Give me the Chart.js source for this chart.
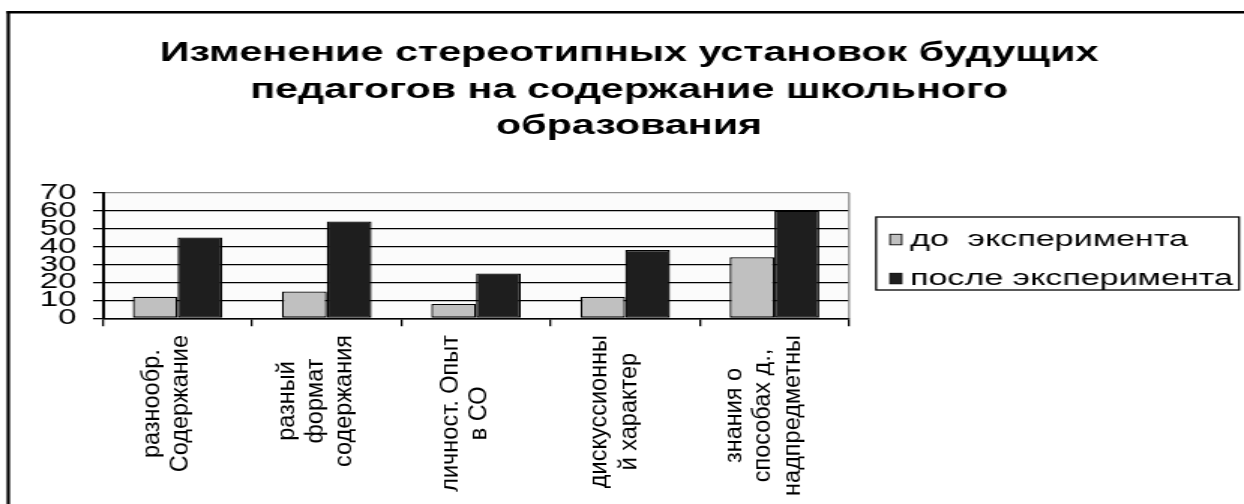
<!DOCTYPE html>
<html>
<head>
<meta charset="utf-8">
<script src="https://cdn.jsdelivr.net/npm/chart.js@4/dist/chart.umd.min.js"></script>
<style>
  html, body { margin: 0; padding: 0; background: #fff; }
</style>
</head>
<body>
<!-- the drawing surface is laid out narrow and shown widened, like the old office chart -->
<canvas id="chart" width="829" height="504" style="display:block;width:1244px;height:504px"></canvas>
<script>
// ---- chart data ----
const titleLines = [
  'Изменение стереотипных установок будущих',
  'педагогов на содержание школьного',
  'образования'
];
const categories = [
  ['разнообр.', 'Содержание'],
  ['разный', 'формат', 'содержания'],
  ['личност. Опыт', 'в СО'],
  ['дискуссионны', 'й характер'],
  ['знания о', 'способах д.,', 'надпредметны']
];
const seriesNames = ['до  эксперимента', 'после эксперимента'];
const beforeValues = [12, 15, 8, 12, 34];
const afterValues = [45, 54, 25, 38, 60];
const yTickValues = [0, 10, 20, 30, 40, 50, 60, 70];

// ---- look ----
const FONT = '"Liberation Sans", Arial, sans-serif';
const GRAY_FILL = '#c0c0c0';
const DARK_FILL = '#1e1e1e';
const WIDEN = 1244 / 829;   // on-screen widening of the canvas

const decor = {
  id: 'decor',
  beforeDraw(chart) {
    const { ctx, chartArea: a } = chart;
    ctx.save();
    ctx.fillStyle = '#fff';
    ctx.fillRect(0, 0, chart.width, chart.height);
    // page frame (top and left rules)
    ctx.fillStyle = '#000';
    ctx.fillRect(4.4, 11, chart.width, 2.5);
    ctx.fillRect(4.4, 11, 2.2, chart.height);
    // plot background
    ctx.fillStyle = '#fbfbfb';
    ctx.fillRect(a.left, a.top, a.right - a.left, a.bottom - a.top);
    ctx.restore();
  },
  beforeDatasetsDraw(chart) {
    const { ctx, chartArea: a } = chart;
    ctx.save();
    ctx.strokeStyle = '#8c8c8c';
    ctx.lineWidth = 1.3;
    ctx.beginPath();
    ctx.moveTo(a.right, a.top);
    ctx.lineTo(a.right, a.bottom);
    ctx.stroke();
    ctx.restore();
  },
  afterDraw(chart) {
    const { ctx } = chart;
    ctx.save();
    ctx.fillStyle = '#000';

    // title
    ctx.font = `bold 27.5px ${FONT}`;
    ctx.textAlign = 'center';
    ctx.textBaseline = 'alphabetic';
    const titleBase = [61, 97.5, 134];
    titleLines.forEach((line, i) => ctx.fillText(line, 419.2, titleBase[i]));

    // category labels, turned upright (not widened), lines centred on each other
    const xs = chart.scales.x;
    ctx.font = `23.5px ${FONT}`;
    chart.data.labels.forEach((lines, i) => {
      const cx = xs.getPixelForValue(i) - 7;
      const maxW = Math.max(...lines.map(l => ctx.measureText(l).width));
      const cy = 335 + maxW / 2;
      lines.forEach((line, j) => {
        const off = (j - (lines.length - 1) / 2) * 19.1;
        ctx.save();
        ctx.translate(cx + off, cy);
        ctx.scale(1 / WIDEN, 1);
        ctx.rotate(-Math.PI / 2);
        ctx.textAlign = 'center';
        ctx.textBaseline = 'middle';
        ctx.fillText(line, 0, 0);
        ctx.restore();
      });
    });

    // legend
    ctx.strokeStyle = '#000';
    ctx.lineWidth = 1.3;
    ctx.strokeRect(583.8, 217, 241.9, 73);
    ctx.font = `22.7px ${FONT}`;
    ctx.textAlign = 'left';
    ctx.textBaseline = 'alphabetic';
    chart.data.datasets.forEach((ds, i) => {
      const base = 245.5 + i * 39;
      ctx.fillStyle = ds.backgroundColor;
      ctx.fillRect(593.1, base - 11.2, 7.8, 10.5);
      ctx.lineWidth = 0.9;
      ctx.strokeRect(593.1, base - 11.2, 7.8, 10.5);
      ctx.fillStyle = '#000';
      ctx.fillText(ds.label, 606.4, base);
    });
    ctx.restore();
  }
};

new Chart(document.getElementById('chart'), {
  type: 'bar',
  data: {
    labels: categories,
    datasets: [
      { label: seriesNames[0], data: beforeValues, backgroundColor: GRAY_FILL,
        borderColor: '#000', borderWidth: 1.3, borderSkipped: false },
      { label: seriesNames[1], data: afterValues, backgroundColor: DARK_FILL,
        borderColor: '#000', borderWidth: 1.3, borderSkipped: false }
    ]
  },
  options: {
    responsive: false,
    devicePixelRatio: 1,
    animation: false,
    events: [],
    layout: { padding: { left: 0, top: 192.7, right: 263.2, bottom: 0 } },
    datasets: { bar: { categoryPercentage: 0.6, barPercentage: 1.0 } },
    plugins: { legend: { display: false }, title: { display: false }, tooltip: { enabled: false } },
    scales: {
      x: {
        offset: true,
        ticks: { display: false },
        grid: { display: true, drawOnChartArea: false, offset: true, tickLength: 8,
                color: '#000', lineWidth: 1.3 },
        border: { display: true, color: '#000', width: 1.5 },
        afterFit(scale) { scale.height = 504 - 318.3; }
      },
      y: {
        min: 0, max: 70,
        afterBuildTicks(scale) { scale.ticks = yTickValues.map(v => ({ value: v })); },
        ticks: { autoSkip: false, padding: 11, color: '#000',
                 font: { family: FONT, size: 22 } },
        grid: { color: c => (c.tick && c.tick.value === 70 ? '#8c8c8c' : '#000'),
                tickColor: '#000', lineWidth: 1.3, tickLength: 6.6 },
        border: { display: true, color: '#000', width: 2 },
        afterFit(scale) { scale.width = 68.6; }
      }
    }
  },
  plugins: [decor]
});
</script>
</body>
</html>
